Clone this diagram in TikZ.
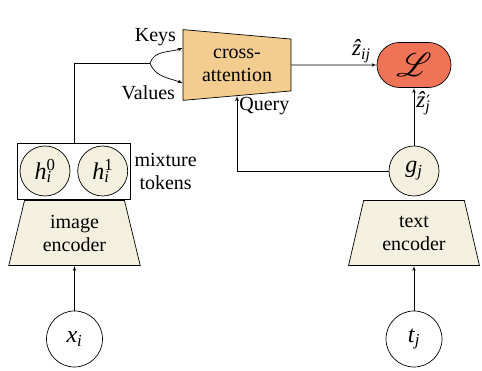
\documentclass[tikz,border=0pt]{standalone}
\usepackage{graphicx}
\usepackage{mathrsfs}
\usepackage{fontspec}
\setmainfont{Liberation Serif}
\newfontfamily\primefont{DejaVu Serif}
\usepackage{xcolor}
\usetikzlibrary{positioning,shapes,arrows}

\definecolor{encfill}{HTML}{F3F0DF}
\definecolor{attnfill}{HTML}{F3CD8F}
\definecolor{lossfill}{HTML}{EF7356}

% italic symbol with stacked sub- and superscript
\newcommand{\ivar}[1]{\textit{#1}}
\newcommand{\subsup}[3]{\ivar{#1}\rlap{\textsubscript{\ivar{#2}}}\textsuperscript{#3}}
\newcommand{\primesym}{\kern1pt{\primefont\fontsize{17}{17}\selectfont\char"2032}}

\tikzset{
  encoder/.style={draw, trapezium, trapezium angle=75, trapezium stretches=true,
    minimum width=132pt, minimum height=65pt, fill=encfill, align=center, inner sep=1pt},
  token/.style={draw, circle, minimum size=50pt, inner sep=0pt, font=\fontsize{24}{28}\selectfont},
  inputnode/.style={draw, circle, minimum size=56pt, inner sep=0pt, font=\fontsize{24}{28}\selectfont},
  symlabel/.style={inner sep=2pt, font=\fontsize{23}{26}\selectfont}
}

\begin{document}
\begin{tikzpicture}[x=1pt, y=1pt, >=latex', line width=0.7pt, font=\fontsize{20}{23}\selectfont]
        \useasboundingbox (0,0) rectangle (482,371);

        % image branch
        \node [inputnode] (xi) at (74.5,32) {\ivar{x}\textsubscript{\ivar{i}}};
        \node [encoder] (imgenc) at (74.5,138) {image\\encoder};
        \node [draw, minimum width=113pt, minimum height=56pt, inner sep=0pt] (mix) at (74,200) {};
        \node [token, fill=encfill] (h0) at (45,200) {\subsup{h}{i}{0}};
        \node [token, fill=encfill, right=7pt of h0] (h1) {\subsup{h}{i}{1}};
        \node [align=center, right=0pt of mix] (mixlbl) {mixture\\tokens};

        % text branch
        \node [inputnode] (tj) at (414,32) {\ivar{t}\textsubscript{\ivar{j}}};
        \node [encoder] (txtenc) at (414,138) {text\\encoder};
        \node [token, fill=encfill] (gj) at (414,200) {\ivar{g}\textsubscript{\ivar{j}}};

        % attention and loss
        \node [draw, trapezium, shape border rotate=270, trapezium angle=85, trapezium stretches=true,
               minimum width=71pt, minimum height=108pt, fill=attnfill, align=center, inner sep=1pt] (attn) at (237,306) {cross-\\attention};
        \node [draw, rounded rectangle, minimum width=74pt, minimum height=45pt, inner sep=0pt,
               fill=lossfill] (loss) at (414,306) {\scalebox{1.6}{$\mathscr{L}$}};

        \coordinate (fork) at (150,308);
        \coordinate (keyin) at ([yshift=17pt]attn.west);
        \coordinate (valin) at ([yshift=-18pt]attn.west);

        \path[->] (xi) edge (imgenc);
        \path[->] (tj) edge (txtenc);
        \draw (mix.north) |- (fork);
        \draw[->] (fork) to[out=70, in=200] node [pos=1, anchor=east, xshift=-3pt, yshift=11pt] {Keys} (keyin);
        \draw[->] (fork) to[out=-70, in=160] node [pos=1, anchor=east, xshift=-4pt, yshift=-10pt] {Values} (valin);
        \draw[->] (gj.west) -| node [pos=0.93, anchor=west, inner sep=2pt] {Query} (attn.south);
        \draw[->] (attn.east) -- node [symlabel, pos=0.82, anchor=south] {\ivar{\^{z}}\textsubscript{\ivar{ij}}} (loss.west);
        \draw[->] (gj.north) -- node [symlabel, pos=0.74, anchor=west] {\ivar{\^{z}}\rlap{\textsubscript{\ivar{j}}}\primesym} (loss.south);
    \end{tikzpicture}
\end{document}
